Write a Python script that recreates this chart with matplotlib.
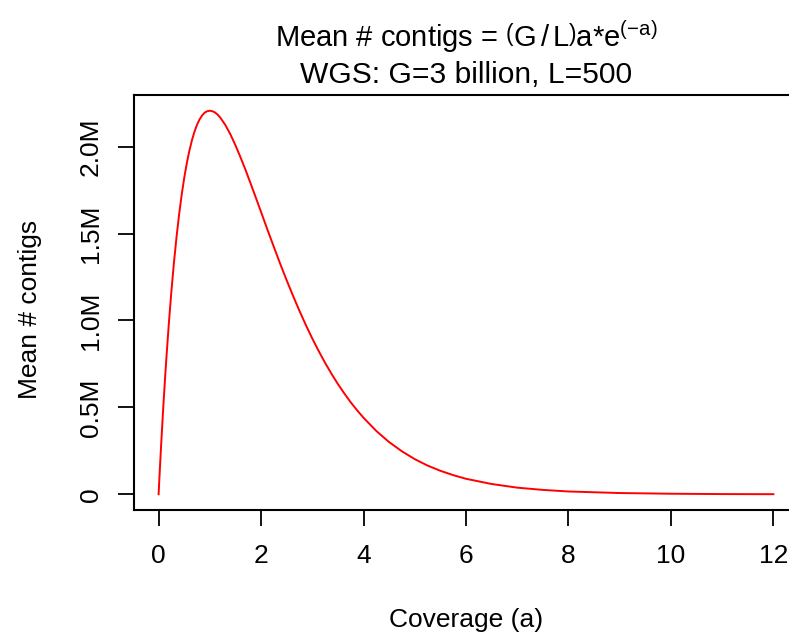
import matplotlib
matplotlib.use("Agg")
import matplotlib.pyplot as plt

plt.rcParams["font.family"] = ["Liberation Sans", "DejaVu Sans"]
plt.rcParams["mathtext.fontset"] = "custom"
plt.rcParams["mathtext.rm"] = "Liberation Sans"
plt.rcParams["mathtext.it"] = "Liberation Sans"
plt.rcParams["mathtext.bf"] = "Liberation Sans"

# coverage (a) and mean number of contigs (millions)
coverage = [0, 0.0125, 0.025, 0.05, 0.075, 0.1, 0.125, 0.15, 0.2, 0.25, 0.3,
            0.35, 0.4, 0.45, 0.5, 0.55, 0.6, 0.65, 0.7, 0.75, 0.8, 0.85, 0.9,
            0.95, 1.0, 1.05, 1.1, 1.15, 1.2, 1.3, 1.4, 1.5, 1.6, 1.7, 1.8,
            1.9, 2.0, 2.125, 2.25, 2.375, 2.5, 2.625, 2.75, 2.875, 3.0, 3.125,
            3.25, 3.375, 3.5, 3.625, 3.75, 3.875, 4.0, 4.25, 4.5, 4.75, 5.0,
            5.25, 5.5, 5.75, 6.0, 6.5, 7.0, 7.5, 8.0, 9.0, 10.0, 11.0, 12.0]
contigs_m = [0, 0.074, 0.146, 0.285, 0.418, 0.543, 0.662, 0.775, 0.983,
             1.168, 1.334, 1.480, 1.609, 1.722, 1.820, 1.904, 1.976, 2.036,
             2.086, 2.126, 2.157, 2.180, 2.196, 2.204, 2.207, 2.204, 2.197,
             2.185, 2.169, 2.126, 2.072, 2.008, 1.938, 1.864, 1.785, 1.705,
             1.624, 1.522, 1.423, 1.325, 1.231, 1.141, 1.055, 0.973, 0.896,
             0.824, 0.756, 0.693, 0.634, 0.580, 0.529, 0.483, 0.440, 0.364,
             0.300, 0.247, 0.202, 0.165, 0.135, 0.110, 0.089, 0.059, 0.038,
             0.025, 0.016, 0.007, 0.003, 0.001, 0.0004]

x_ticks = [0, 2, 4, 6, 8, 10, 12]
y_ticks_m = [0, 0.5, 1.0, 1.5, 2.0]
y_tick_labels = ["0", "0.5M", "1.0M", "1.5M", "2.0M"]

W, H = 789, 634
fig = plt.figure(figsize=(W / 100, H / 100), dpi=100)
ax = fig.add_axes([134 / W, 1 - 509.6 / H, (798 - 134) / W, (509.6 - 95.3) / H])

contigs = [v * 1e6 for v in contigs_m]
ax.plot(coverage, contigs, color="#ff0000", lw=1.4)

ax.set_xlim(-0.48, 12.48)
ax.set_ylim(-0.0883e6, 2.2956e6)

ax.set_xticks(x_ticks)
ax.set_xticklabels([str(t) for t in x_ticks])
ax.set_yticks([v * 1e6 for v in y_ticks_m])
ax.set_yticklabels(y_tick_labels, rotation=90, va="center")

ax.tick_params(axis="both", length=11.5, width=1.3, labelsize=19, color="black")
ax.tick_params(axis="x", pad=13)
ax.tick_params(axis="y", pad=11)
for s in ax.spines.values():
    s.set_linewidth(1.5)

fig.text(466 / W, 1 - 47 / H,
         r"Mean # contigs = $\left(\mathrm{G\,/\,L}\right)$a*e$^{(-\mathrm{a})}$",
         ha="center", va="baseline", fontsize=21)
fig.text(466 / W, 1 - 83 / H, "WGS: G=3 billion, L=500",
         ha="center", va="baseline", fontsize=21.6)
fig.text(466 / W, 1 - 627 / H, "Coverage (a)",
         ha="center", va="baseline", fontsize=19)
fig.text(37 / W, 1 - 309.5 / H, "Mean # contigs", rotation=90,
         rotation_mode="anchor", ha="center", va="baseline", fontsize=19)

fig.savefig("out.png", dpi=100)
